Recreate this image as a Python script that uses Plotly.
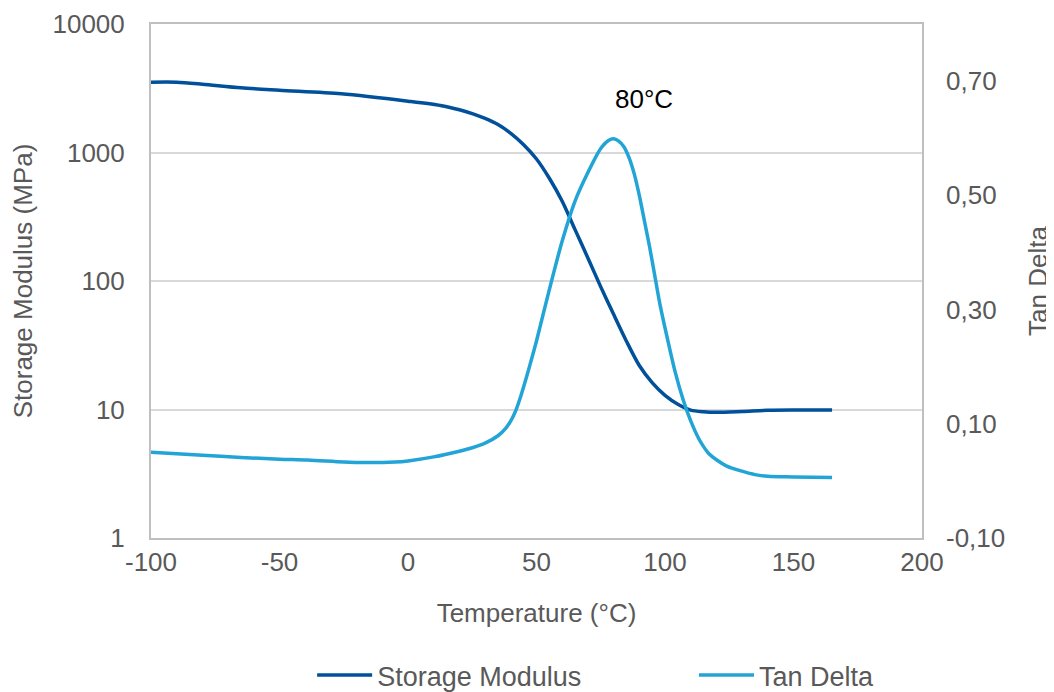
import plotly.graph_objects as go

# Storage modulus (MPa), log axis
sm_temp = [-100, -90, -80, -65, -50, -26, 0, 12.6, 20, 25, 30, 35, 40, 45, 50, 55, 60, 65, 70,
           75, 80, 85, 90, 95, 100, 105, 110, 115, 120, 130, 140, 150, 165]
sm_value = [3525, 3525, 3400, 3185, 3050, 2865, 2510, 2323, 2150, 2010, 1840, 1650, 1410, 1150, 890, 630,
            417, 251, 151, 90, 55, 34, 22, 16.2, 12.9, 11.0, 9.9, 9.6, 9.5, 9.65, 9.85, 9.9, 9.9]

# Tan delta
td_temp = [-100, -80, -65, -50, -39, -25, -17, -5, 0, 10, 20, 25, 30, 35, 38, 40, 42, 44, 46, 48, 50, 55,
           60, 65, 70, 75, 78, 80, 82, 84, 86, 88, 90, 92, 94, 96, 98, 101, 104, 107, 110, 113, 115, 117,
           120, 124, 130, 135, 140, 150, 165]
td_value = [0.050, 0.045, 0.041, 0.038, 0.0365, 0.033, 0.032, 0.033, 0.035, 0.042, 0.052, 0.058, 0.066,
            0.079, 0.092, 0.105, 0.124, 0.150, 0.180, 0.212, 0.245, 0.335, 0.420, 0.490, 0.540, 0.582,
            0.596, 0.599, 0.595, 0.585, 0.566, 0.538, 0.500, 0.455, 0.410, 0.360, 0.310, 0.248, 0.190,
            0.143, 0.105, 0.075, 0.060, 0.048, 0.037, 0.026, 0.017, 0.011, 0.008, 0.007, 0.006]

x_ticks = [-100, -50, 0, 50, 100, 150, 200]
x_labels = ["-100", "-50", "0", "50", "100", "150", "200"]
y_ticks = [1, 10, 100, 1000, 10000]
y_labels = ["1", "10", "100", "1000", "10000"]
y2_ticks = [-0.10, 0.10, 0.30, 0.50, 0.70]
y2_labels = ["-0,10", "0,10", "0,30", "0,50", "0,70"]

FONT = "Liberation Sans, Arial, sans-serif"
GREY = "#595959"
FS = 26

fig = go.Figure()
fig.add_trace(go.Scatter(x=sm_temp, y=sm_value, mode="lines", name="Storage Modulus", legend="legend",
                         line=dict(color="#00509A", width=3.5, shape="spline", smoothing=0.8)))
fig.add_trace(go.Scatter(x=td_temp, y=td_value, mode="lines", name="Tan Delta", yaxis="y2", legend="legend2",
                         line=dict(color="#22A4D6", width=3.5, shape="spline", smoothing=0.8)))

fig.add_annotation(x=92, y=0.668, xref="x", yref="y2", text="80°C", showarrow=False,
                   font=dict(family=FONT, size=FS, color="black"))

leg_common = dict(orientation="h", xanchor="left", y=-0.2197, yanchor="top",
                  font=dict(size=27, color=GREY), itemwidth=55, bgcolor="rgba(0,0,0,0)")

fig.update_layout(
    width=1054, height=692,
    margin=dict(l=143, r=140, t=16, b=162, autoexpand=False),
    paper_bgcolor="white", plot_bgcolor="white",
    font=dict(family=FONT, size=FS, color=GREY),
    xaxis=dict(range=[-100, 200], tickvals=x_ticks, ticktext=x_labels, showgrid=False, zeroline=False,
               showline=True, linecolor="#BFBFBF", linewidth=2, mirror=True, ticks="",
               ticklabelstandoff=0, automargin=False,
               title=dict(text="Temperature (°C)", standoff=28, font=dict(size=FS, color=GREY)),
               tickfont=dict(size=FS, color=GREY)),
    yaxis=dict(type="log", range=[0, 4], tickvals=y_ticks, ticktext=y_labels,
               showgrid=True, gridcolor="#D9D9D9", gridwidth=2, zeroline=False,
               showline=True, linecolor="#BFBFBF", linewidth=2, mirror=True, ticks="",
               ticklabelstandoff=19, automargin=False,
               title=dict(text="Storage Modulus (MPa)", standoff=20, font=dict(size=FS, color=GREY)),
               tickfont=dict(size=FS, color=GREY)),
    yaxis2=dict(overlaying="y", side="right", range=[-0.1, 0.8], tickvals=y2_ticks, ticktext=y2_labels,
                showgrid=False, zeroline=False, ticks="", ticklabelstandoff=23, automargin=False,
                title=dict(text="Tan Delta", standoff=24, font=dict(size=FS, color=GREY)),
                tickfont=dict(size=FS, color=GREY)),
    legend=dict(x=0.209, **leg_common),
    legend2=dict(x=0.7043, **leg_common),
    showlegend=True,
)

fig.write_html("out.html")
